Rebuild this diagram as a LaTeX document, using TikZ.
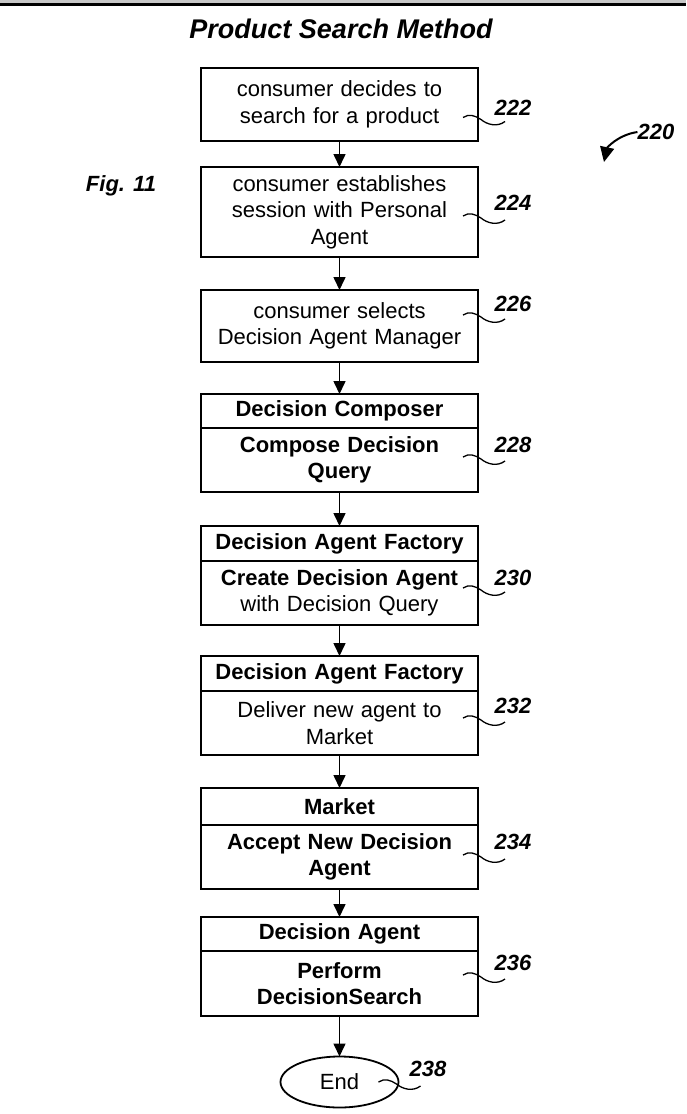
\documentclass[tikz,border=0pt]{standalone}
\usepackage{fontspec}
\setmainfont{Liberation Sans}
\usetikzlibrary{arrows.meta,positioning,shapes.geometric}

% squiggly lead line from a box to its reference number
\newcommand{\leadsquig}[1]{\draw[lead] #1 .. controls +(6,4) and +(-6,4) .. ++(18,-2) .. controls +(6,-5) and +(-8,-6) .. ++(24,-2);}

\begin{document}
\begin{tikzpicture}[x=1pt,y=1pt,>={Triangle[length=13pt,width=12pt]},
  stepbox/.style={draw=black,line width=1.8pt,outer sep=0pt,minimum width=277pt,text width=265pt,align=center,inner sep=2pt,font=\fontsize{22}{26.5}\selectfont},
  headbox/.style={stepbox,minimum height=34pt,font=\fontsize{22}{26.5}\selectfont\bfseries},
  refnum/.style={font=\fontsize{22}{26}\selectfont\bfseries\itshape,inner sep=0pt},
  flow/.style={->,line width=1.6pt},
  lead/.style={line width=1.3pt}]
\useasboundingbox (0,0) rectangle (686,-1114);
\fill[black!22] (0,0) rectangle (686,-3);
\draw[line width=2.5pt] (0,-4.5)--(686,-4.5);

\node[font=\fontsize{27}{31}\selectfont\bfseries\itshape] (title) at (341,-29) {Product Search Method};
\node[refnum] (fig) at (121,-186) {Fig. 11};

% plain steps
\node[stepbox,minimum height=73pt] (decide) at (339.5,-104.5) {consumer decides to\\search for a product};
\node[stepbox,minimum height=90pt] (session) at (339.5,-212) {consumer establishes\\session with Personal\\Agent};
\node[stepbox,minimum height=72pt] (select) at (339.5,-326) {consumer selects\\Decision Agent Manager};

% split steps
\node[headbox] (composeH) at (339.5,-411) {Decision Composer};
\node[stepbox,minimum height=64pt,below=0pt of composeH,font=\fontsize{22}{26.5}\selectfont\bfseries] (composeB) {Compose Decision\\Query};
\node[headbox,minimum height=35pt] (createH) at (339.5,-543.5) {Decision Agent Factory};
\node[stepbox,minimum height=64pt,below=0pt of createH] (createB) {\textbf{Create Decision Agent}\\with Decision Query};
\node[headbox,minimum height=35pt] (deliverH) at (339.5,-673.5) {Decision Agent Factory};
\node[stepbox,minimum height=64pt,below=0pt of deliverH] (deliverB) {Deliver new agent to\\Market};
\node[headbox,minimum height=37pt] (acceptH) at (339.5,-806.5) {Market};
\node[stepbox,minimum height=64pt,below=0pt of acceptH,font=\fontsize{22}{26.5}\selectfont\bfseries] (acceptB) {Accept New Decision\\Agent};
\node[headbox] (performH) at (339.5,-934) {Decision Agent};
\node[stepbox,minimum height=65pt,below=0pt of performH,font=\fontsize{22}{26.5}\selectfont\bfseries] (performB) {Perform\\DecisionSearch};
\node[draw,ellipse,line width=1.8pt,outer sep=0pt,minimum width=118pt,minimum height=51pt,font=\fontsize{22}{26}\selectfont] (finish) at (339.5,-1082) {End};

% flow arrows
\draw[flow] (decide.south)--(session.north);
\draw[flow] (session.south)--(select.north);
\draw[flow] (select.south)--(composeH.north);
\draw[flow] (composeB.south)--(createH.north);
\draw[flow] (createB.south)--(deliverH.north);
\draw[flow] (deliverB.south)--(acceptH.north);
\draw[flow] (acceptB.south)--(performH.north);
\draw[flow] (performB.south)--(finish.north);

% reference numbers
\node[refnum] (r222) at (513,-108) {222};
\node[refnum] (r224) at (513,-203) {224};
\node[refnum] (r226) at (513,-304) {226};
\node[refnum] (r228) at (513,-445) {228};
\node[refnum] (r230) at (513,-578) {230};
\node[refnum] (r232) at (513,-706) {232};
\node[refnum] (r234) at (513,-842) {234};
\node[refnum] (r236) at (513,-963) {236};
\node[refnum] (r238) at (428,-1069) {238};
\node[refnum] (r220) at (656,-132) {220};

\leadsquig{([xshift=-15pt,yshift=-13pt]decide.east)}
\leadsquig{([xshift=-15pt,yshift=-4pt]session.east)}
\leadsquig{([xshift=-15pt,yshift=11pt]select.east)}
\leadsquig{([xshift=-15pt,yshift=3pt]composeB.east)}
\leadsquig{([xshift=-15pt,yshift=5pt]createB.east)}
\leadsquig{([xshift=-15pt,yshift=5pt]deliverB.east)}
\leadsquig{([xshift=-15pt,yshift=2pt]acceptB.east)}
\leadsquig{([xshift=-15pt,yshift=8.5pt]performB.east)}
\leadsquig{([xshift=-20pt]finish.east)}
\draw[-{Triangle[length=15pt,width=14pt]},line width=2pt] (r220.west) .. controls +(-20,-3) and +(3,14) .. (604,-162);
\end{tikzpicture}
\end{document}
